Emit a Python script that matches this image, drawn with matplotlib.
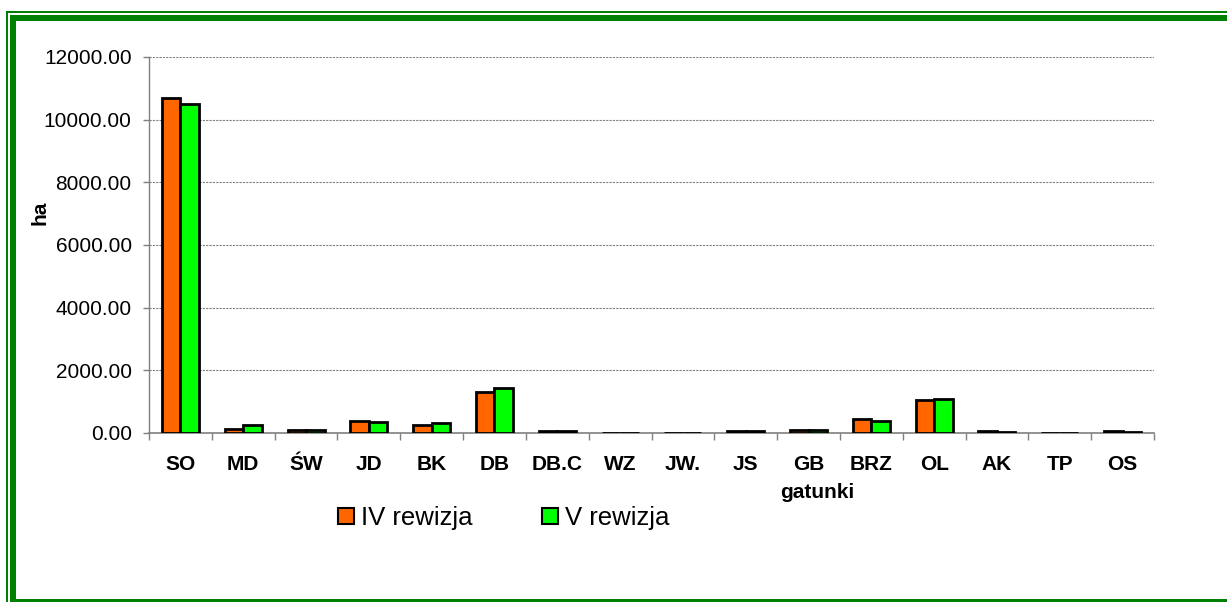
import matplotlib
matplotlib.use("Agg")
import matplotlib.pyplot as plt
from matplotlib.patches import Rectangle, Patch
import numpy as np

plt.rcParams['font.family'] = ['Liberation Sans', 'DejaVu Sans']

categories = ["SO", "MD", "ŚW", "JD", "BK", "DB", "DB.C", "WZ", "JW.", "JS", "GB", "BRZ", "OL", "AK", "TP", "OS"]
iv_rewizja = [10700, 140, 110, 370, 270, 1320, 60, 0, 0, 60, 80, 440, 1040, 50, 0, 50]
v_rewizja = [10500, 260, 90, 340, 310, 1430, 55, 0, 0, 50, 100, 390, 1080, 45, 0, 40]
series_names = ["IV rewizja", "V rewizja"]
yticks = [0, 2000, 4000, 6000, 8000, 10000, 12000]

W, H = 1227, 602
fig = plt.figure(figsize=(W / 100, H / 100), dpi=100)

def px(x0, y0, x1, y1):
    return [x0 / W, 1 - y1 / H, (x1 - x0) / W, (y1 - y0) / H]

AX0, AY0, AX1, AY1 = 149, 57, 1154, 433
ax = fig.add_axes(px(AX0, AY0, AX1, AY1))

x = np.arange(len(categories))
bw = 0.295
orange = "#FF6600"
green = "#00FF00"
ax.bar(x - bw / 2, iv_rewizja, bw, color=orange, edgecolor="black", linewidth=2, zorder=3)
ax.bar(x + bw / 2, v_rewizja, bw, color=green, edgecolor="black", linewidth=2, zorder=3)

ax.set_xlim(-0.5, len(categories) - 0.5)
ax.set_ylim(0, 12000)
ax.set_yticks(yticks)
ax.set_yticklabels([f"{v:.2f}" for v in yticks], fontsize=15)
ax.yaxis.grid(True, linestyle=(0, (2, 1)), color="#808080", linewidth=0.8, zorder=0)

ax.set_xticks(np.arange(-0.5, len(categories), 1.0))
ax.set_xticklabels([])
ax.set_xticks(x, minor=True)
ax.set_xticklabels(categories, minor=True, fontsize=15, fontweight="bold")
ax.tick_params(axis="x", which="major", length=5, width=1, color="#808080", direction="out")
ax.tick_params(axis="x", which="minor", length=0, pad=16)
ax.tick_params(axis="y", length=4.5, width=1, color="#808080", direction="out", pad=8)

for s in ["top", "right"]:
    ax.spines[s].set_visible(False)
ax.spines["left"].set_color("#808080")
ax.spines["bottom"].set_color("#808080")
ax.spines["left"].set_linewidth(1)
ax.spines["bottom"].set_linewidth(1.2)

aw, ah = AX1 - AX0, AY1 - AY0
ax.set_ylabel("ha", fontsize=15, fontweight="bold", va="center")
ax.yaxis.set_label_coords((40 - AX0) / aw, (AY1 - 213) / ah)
ax.set_xlabel("gatunki", fontsize=15, fontweight="bold", va="center")
ax.xaxis.set_label_coords((817 - AX0) / aw, (AY1 - 493) / ah)

handles = [Patch(facecolor=orange, edgecolor="black", linewidth=1.5),
           Patch(facecolor=green, edgecolor="black", linewidth=1.5)]
fig.legend(handles, series_names, loc="center", bbox_to_anchor=(504 / W, 1 - 518 / H),
           ncol=2, frameon=False, fontsize=18.5, handlelength=0.6, handleheight=0.6,
           handletextpad=0.3, columnspacing=2.7, borderpad=0)

g = "#008000"
for r in [px(6, 11, W, 12.5), px(6, 11, 7.5, H),
          px(10, 15, W, 21), px(10, 15, 16, H), px(10, 599, W, H)]:
    fig.add_artist(Rectangle((r[0], r[1]), r[2], r[3], transform=fig.transFigure,
                             facecolor=g, edgecolor="none"))

fig.savefig("out.png", dpi=100)
